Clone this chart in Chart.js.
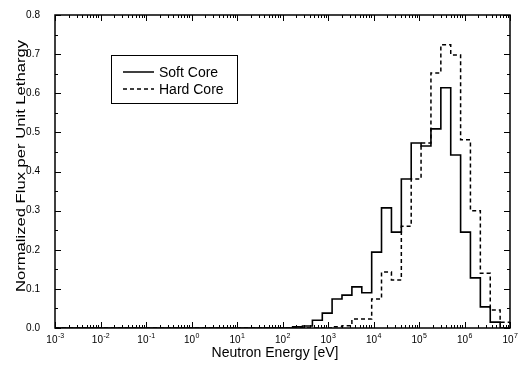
<!DOCTYPE html>
<html>
<head>
<meta charset="utf-8">
<script src="https://cdn.jsdelivr.net/npm/chart.js@4.4.1/dist/chart.umd.min.js"></script>
<style>
  html, body { margin: 0; padding: 0; background: #fff; }
  #wrap { width: 525px; height: 366px; }
</style>
</head>
<body>
<div id="wrap"><canvas id="fluxChart" width="525" height="366"></canvas></div>
<script>
// group boundaries in eV, lowest first
const groupEdges = [1.67e2, 2.75e2, 4.54e2, 7.49e2, 1.23e3, 2.03e3, 3.35e3, 5.53e3, 9.12e3,
  1.50e4, 2.48e4, 4.09e4, 6.74e4, 1.11e5, 1.83e5, 3.02e5, 4.98e5, 8.21e5, 1.35e6, 2.23e6,
  3.68e6, 6.07e6, 1.00e7];
// flux per unit lethargy, one value per group
const softCore = [0.003, 0.005, 0.020, 0.038, 0.074, 0.084, 0.105, 0.090, 0.194, 0.307, 0.245,
  0.381, 0.473, 0.465, 0.509, 0.614, 0.442, 0.245, 0.128, 0.054, 0.015, 0.0];
const hardCore = [0, 0, 0, 0, 0.003, 0.006, 0.023, 0.023, 0.074, 0.143, 0.123,
  0.260, 0.381, 0.473, 0.652, 0.724, 0.698, 0.481, 0.300, 0.140, 0.046, 0.015];

const xDecades = [1e-3, 1e-2, 1e-1, 1e0, 1e1, 1e2, 1e3, 1e4, 1e5, 1e6, 1e7];
const xExponents = ['-3', '-2', '-1', '0', '1', '2', '3', '4', '5', '6', '7'];
const yTickValues = [0, 0.1, 0.2, 0.3, 0.4, 0.5, 0.6, 0.7, 0.8];
const yTickLabels = ['0.0', '0.1', '0.2', '0.3', '0.4', '0.5', '0.6', '0.7', '0.8'];

const FONT = '"Liberation Sans", Arial, sans-serif';

// step outline: start on the baseline, one point per group, drop back to 0 at the top edge
function toSteps(values) {
  const pts = [{ x: xDecades[0], y: 0 }];
  values.forEach((v, i) => pts.push({ x: groupEdges[i], y: v }));
  pts.push({ x: groupEdges[groupEdges.length - 1], y: 0 });
  return pts;
}

// frame, inward ticks, x labels with exponents, axis titles, legend box
const plotDecor = {
  id: 'plotDecor',
  afterDatasetsDraw(chart) {
    const { ctx, chartArea: a, scales: { x, y } } = chart;
    ctx.save();
    ctx.strokeStyle = '#000';
    ctx.fillStyle = '#000';

    ctx.lineWidth = 1;
    ctx.beginPath();
    const tickX = (px, len) => {
      px = Math.round(px) + 0.5;
      ctx.moveTo(px, a.bottom); ctx.lineTo(px, a.bottom - len);
      ctx.moveTo(px, a.top); ctx.lineTo(px, a.top + len);
    };
    const tickY = (py, len) => {
      py = Math.round(py) + 0.5;
      ctx.moveTo(a.left, py); ctx.lineTo(a.left + len, py);
      ctx.moveTo(a.right, py); ctx.lineTo(a.right - len, py);
    };
    xDecades.forEach((v, i) => {
      tickX(x.getPixelForValue(v), 6);
      if (i < xDecades.length - 1) {
        for (let m = 2; m < 10; m++) tickX(x.getPixelForValue(v * m), 3);
      }
    });
    yTickValues.forEach((v, i) => {
      tickY(y.getPixelForValue(v), 6);
      if (i < yTickValues.length - 1) tickY(y.getPixelForValue(v + 0.05), 3);
    });
    ctx.stroke();

    ctx.lineWidth = 1.5;
    ctx.strokeRect(a.left, a.top, a.right - a.left, a.bottom - a.top);

    // decade labels: "10" plus a raised exponent
    ctx.textBaseline = 'alphabetic';
    xDecades.forEach((v, i) => {
      const px = x.getPixelForValue(v);
      ctx.font = '10px ' + FONT;
      const wBase = ctx.measureText('10').width;
      ctx.font = '7px ' + FONT;
      const wExp = ctx.measureText(xExponents[i]).width;
      const left = px - (wBase + wExp) / 2;
      ctx.font = '10px ' + FONT;
      ctx.textAlign = 'left';
      ctx.fillText('10', left, a.bottom + 15);
      ctx.font = '7px ' + FONT;
      ctx.fillText(xExponents[i], left + wBase + 0.5, a.bottom + 10);
    });

    // axis titles
    ctx.font = '14px ' + FONT;
    ctx.textAlign = 'center';
    ctx.textBaseline = 'middle';
    ctx.fillText('Neutron Energy [eV]', 275, 353);

    ctx.save();
    ctx.translate(21, 166);
    ctx.rotate(-Math.PI / 2);
    ctx.font = '13px ' + FONT;
    const title = 'Normalized Flux per Unit Lethargy';
    const tw = ctx.measureText(title).width;
    ctx.scale(252 / tw, 1);
    ctx.fillText(title, 0, 0);
    ctx.restore();

    // legend
    ctx.lineWidth = 1;
    ctx.strokeRect(111.5, 55.5, 126, 48);
    ctx.font = '14px ' + FONT;
    ctx.textAlign = 'left';
    const rows = [{ label: 'Soft Core', dash: [], y: 72 }, { label: 'Hard Core', dash: [4, 3], y: 89 }];
    rows.forEach(r => {
      ctx.setLineDash(r.dash);
      ctx.lineWidth = 1.5;
      ctx.beginPath();
      ctx.moveTo(123, r.y);
      ctx.lineTo(154, r.y);
      ctx.stroke();
      ctx.setLineDash([]);
      ctx.fillText(r.label, 159, r.y + 1);
    });
    ctx.restore();
  }
};

new Chart(document.getElementById('fluxChart'), {
  type: 'line',
  data: {
    datasets: [
      {
        label: 'Soft Core',
        data: toSteps(softCore),
        stepped: 'before',
        borderColor: '#000',
        borderWidth: 1.6,
        pointRadius: 0,
        fill: false
      },
      {
        label: 'Hard Core',
        data: toSteps(hardCore),
        stepped: 'before',
        borderColor: '#000',
        borderWidth: 1.5,
        borderDash: [4, 3],
        pointRadius: 0,
        fill: false
      }
    ]
  },
  options: {
    responsive: false,
    animation: false,
    devicePixelRatio: 1,
    layout: { padding: { top: 15, right: 15, left: 0, bottom: 0 } },
    plugins: { legend: { display: false }, tooltip: { enabled: false } },
    scales: {
      x: {
        type: 'logarithmic',
        min: 1e-3,
        max: 1e7,
        grid: { display: false },
        border: { display: false },
        ticks: { display: false },
        afterFit: s => { s.height = 38; }
      },
      y: {
        min: 0,
        max: 0.8,
        grid: { display: false },
        border: { display: false },
        afterBuildTicks: s => { s.ticks = yTickValues.map(v => ({ value: v })); },
        ticks: {
          autoSkip: false,
          padding: 7,
          color: '#000',
          font: { family: FONT, size: 10 },
          callback: (v, i) => yTickLabels[i]
        },
        afterFit: s => { s.width = 55; }
      }
    }
  },
  plugins: [plotDecor]
});
</script>
</body>
</html>
